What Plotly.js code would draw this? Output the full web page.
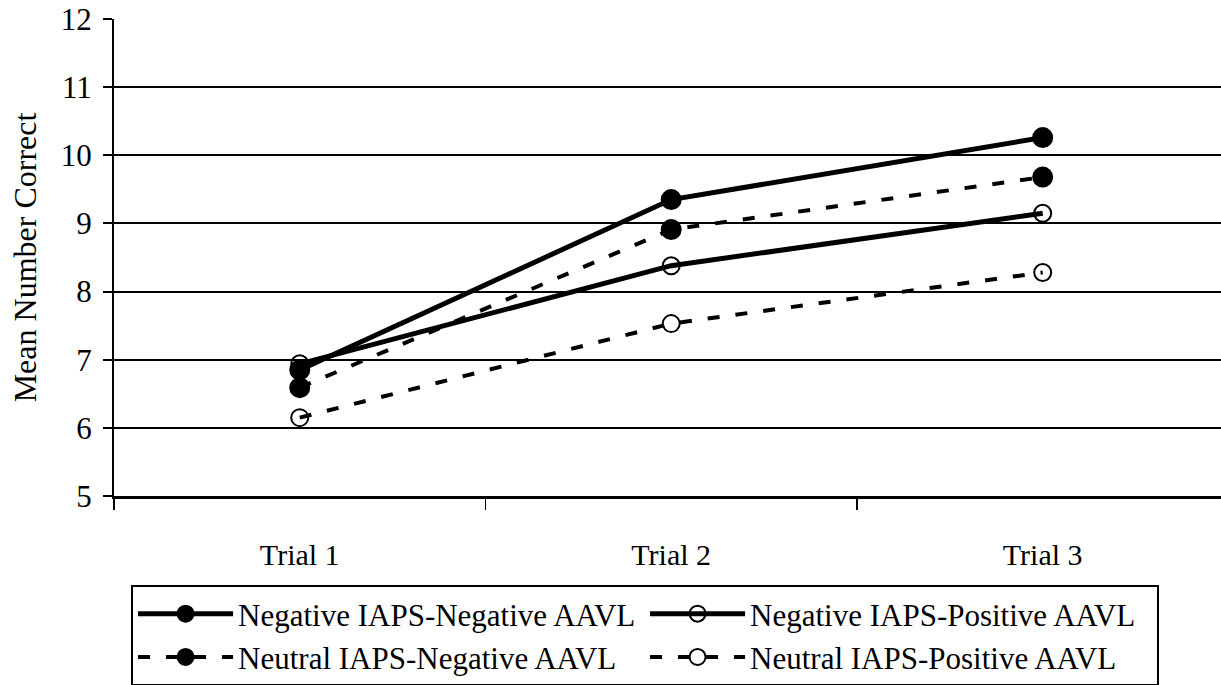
<!DOCTYPE html>
<html>
<head>
<meta charset="utf-8">
<script src="https://cdn.plot.ly/plotly-3.0.1.min.js"></script>
<style>html,body{margin:0;padding:0;background:#fff;overflow:hidden}#chart{width:1221px;height:685px}</style>
</head>
<body>
<div id="chart"></div>
<script>
const trials = ['Trial 1', 'Trial 2', 'Trial 3'];
const negIapsNegAavl = [6.85, 9.35, 10.26];
const negIapsPosAavl = [6.94, 8.38, 9.15];
const neuIapsNegAavl = [6.59, 8.91, 9.68];
const neuIapsPosAavl = [6.15, 7.53, 8.28];
const seriesNames = ['Negative IAPS-Negative AAVL', 'Negative IAPS-Positive AAVL', 'Neutral IAPS-Negative AAVL', 'Neutral IAPS-Positive AAVL'];
const yTicks = [5, 6, 7, 8, 9, 10, 11, 12];

const FONT = 'Liberation Serif, Times New Roman, serif';

function mk(name, y, dash, filled) {
  return {
    type: 'scatter', mode: 'lines+markers', name: name, x: trials, y: y,
    line: {color: '#000', width: dash === 'solid' ? 5 : 4, dash: dash},
    marker: {
      symbol: filled ? 'circle' : 'circle-open',
      size: filled ? 19 : 17,
      color: '#000',
      line: {color: '#000', width: 2}
    }
  };
}

const data = [
  mk(seriesNames[0], negIapsNegAavl, 'solid', true),
  mk(seriesNames[1], negIapsPosAavl, 'solid', false),
  mk(seriesNames[2], neuIapsNegAavl, '12px,16px', true),
  mk(seriesNames[3], neuIapsPosAavl, '12px,16px', false)
];

const layout = {
  width: 1221, height: 685,
  margin: {l: 114, r: 0, t: 19, b: 189, autoexpand: false},
  paper_bgcolor: '#fff', plot_bgcolor: '#fff',
  font: {family: FONT, size: 30, color: '#000'},
  showlegend: true,
  xaxis: {
    type: 'category', range: [-0.5, 2.48],
    tickson: 'boundaries', ticks: 'outside', ticklen: 11, tickwidth: 1.5, tickcolor: '#000',
    showgrid: false, showline: true, linecolor: '#000', linewidth: 3,
    ticklabelstandoff: 30, zeroline: false, automargin: false,
    tickfont: {family: FONT, size: 30, color: '#000'}
  },
  yaxis: {
    range: [5, 12], tickvals: yTicks, ticktext: yTicks.map(String),
    ticks: 'outside', ticklen: 9, tickwidth: 2, tickcolor: '#000',
    showgrid: true, gridcolor: '#000', gridwidth: 2,
    showline: true, linecolor: '#000', linewidth: 2, zeroline: false,
    ticklabelstandoff: 5, automargin: false,
    tickfont: {family: FONT, size: 31, color: '#000'},
    title: {text: 'Mean Number Correct', font: {family: FONT, size: 32, color: '#000'}, standoff: 15}
  },
  legend: {
    orientation: 'h', x: 0.0154, xanchor: 'left', y: -0.1866, yanchor: 'top',
    bordercolor: '#000', borderwidth: 2, bgcolor: '#fff',
    itemwidth: 95, entrywidth: 402, entrywidthmode: 'pixels',
    font: {family: FONT, size: 31, color: '#000'},
    traceorder: 'normal'
  }
};

Plotly.newPlot('chart', data, layout, {displayModeBar: false, staticPlot: true});
</script>
</body>
</html>
